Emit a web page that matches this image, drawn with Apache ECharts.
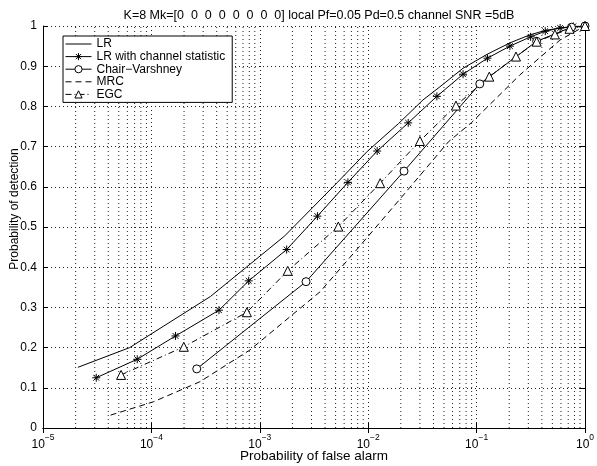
<!DOCTYPE html>
<html>
<head>
<meta charset="utf-8">
<script src="https://cdn.jsdelivr.net/npm/echarts@6/dist/echarts.min.js"></script>
<style>html,body{margin:0;padding:0;background:#fff}#c{width:597px;height:466px}</style>
</head>
<body>
<div id="c"></div>
<script>
const titleText = 'K=8 Mk=[0  0  0  0  0  0  0  0] local Pf=0.05 Pd=0.5 channel SNR =5dB';
const xName = 'Probability of false alarm';
const yName = 'Probability of detection';
const seriesNames = ['LR', 'LR with channel statistic', 'Chair\u2212Varshney', 'MRC', 'EGC'];

const lrX = [2.1e-5, 6.3e-5, 3.5e-4, 1.7e-3, 5.2e-3, 9.8e-3, 1.9e-2, 3.2e-2, 4.6e-2, 7.5e-2, 0.126, 0.203, 0.31, 0.43, 0.59, 1];
const lrY = [0.151, 0.200, 0.327, 0.478, 0.611, 0.688, 0.757, 0.816, 0.849, 0.895, 0.930, 0.958, 0.978, 0.989, 0.995, 1.0];

const lrsX = [3.1e-5, 7.4e-5, 1.67e-4, 4.2e-4, 7.9e-4, 1.77e-3, 3.4e-3, 6.5e-3, 1.21e-2, 2.34e-2, 4.3e-2, 7.5e-2, 0.126, 0.203, 0.315, 0.43, 0.59, 0.78, 1];
const lrsY = [0.125, 0.171, 0.229, 0.293, 0.366, 0.444, 0.527, 0.611, 0.689, 0.759, 0.825, 0.880, 0.920, 0.950, 0.973, 0.987, 0.995, 0.999, 1.0];

const cvX = [2.62e-4, 2.67e-3, 2.14e-2, 0.107, 0.358, 0.75, 1];
const cvY = [0.147, 0.364, 0.639, 0.856, 0.962, 0.997, 1.0];

const mrcX = [4.2e-5, 1.04e-4, 2.8e-4, 8.1e-4, 3.6e-3, 7.8e-3, 2.0e-2, 5.5e-2, 0.09, 0.25, 0.587, 1];
const mrcY = [0.032, 0.065, 0.115, 0.194, 0.339, 0.443, 0.572, 0.712, 0.760, 0.878, 0.965, 1.0];

const egcX = [5.25e-5, 1.99e-4, 7.6e-4, 1.81e-3, 5.3e-3, 1.29e-2, 3.0e-2, 6.45e-2, 0.131, 0.231, 0.358, 0.528, 0.72, 1];
const egcY = [0.132, 0.202, 0.288, 0.391, 0.501, 0.609, 0.714, 0.802, 0.874, 0.924, 0.961, 0.979, 0.993, 1.0];

// minor log grid positions (2..9 x 10^n)
const minorGridX = [];
for (let e = -5; e < 0; e++) for (let k = 2; k <= 9; k++) minorGridX.push(k * Math.pow(10, e));

const zip = (xs, ys) => xs.map((x, i) => [x, ys[i]]);
const FONT = 'Liberation Sans, Arial, sans-serif';
const starPath = 'path://M0,-5L0,5M-5,0L5,0M-3.6,-3.6L3.6,3.6M-3.6,3.6L3.6,-3.6';
const triPath = 'path://M0,-10L8.66,5L-8.66,5Z';
const gridLine = { show: true, lineStyle: { color: '#222', type: [1, 3], width: 1 } };

const minorData = [];
minorGridX.forEach(v => { minorData.push([v, 0], [v, 1], [v, null]); });

const chart = echarts.init(document.getElementById('c'), null, { renderer: 'canvas' });
const base = (name, data) => ({
  name, type: 'line', data, xAxisIndex: 0, yAxisIndex: 0,
  lineStyle: { color: '#000', width: 1 },
  itemStyle: { color: '#fff', borderColor: '#000', borderWidth: 1 },
  animation: false, z: 5
});
const axisBox = { show: true, lineStyle: { color: '#000', width: 1 } };
const tickIn = { show: true, inside: true, length: 5, lineStyle: { color: '#000' } };
chart.setOption({
  backgroundColor: '#fff',
  animation: false,
  title: {
    text: titleText, left: 314, top: 4, textAlign: 'center',
    textStyle: { fontFamily: FONT, fontSize: 12.5, fontWeight: 'normal', color: '#000' }
  },
  grid: { left: 43, right: 12, top: 26, bottom: 38, containLabel: false, outerBoundsMode: 'none' },
  legend: {
    orient: 'vertical', left: 63, top: 36, itemWidth: 26, itemHeight: 9, itemGap: 0.6,
    padding: [2, 7, 2, 2],
    backgroundColor: '#fff', borderColor: '#000', borderWidth: 1,
    lineStyle: { width: 1 },
    itemStyle: { borderWidth: 1 },
    textStyle: { fontFamily: FONT, fontSize: 12, color: '#000' },
    data: [
      { name: seriesNames[0], itemStyle: { opacity: 0 } },
      { name: seriesNames[1] },
      { name: seriesNames[2] },
      { name: seriesNames[3], itemStyle: { opacity: 0 } },
      { name: seriesNames[4] }
    ]
  },
  xAxis: [{
    type: 'log', logBase: 10, min: 1e-5, max: 1,
    name: xName, nameLocation: 'middle', nameGap: 21, nameMoveOverlap: false,
    nameTextStyle: { fontFamily: FONT, fontSize: 13.5, color: '#000' },
    axisLine: axisBox, axisTick: tickIn,
    axisLabel: {
      margin: 5,
      formatter: v => '{b|10}{s|' + Math.round(Math.log10(v)).toString().replace('-', '\u2212') + '}',
      rich: {
        b: { fontFamily: FONT, fontSize: 12, color: '#000', verticalAlign: 'bottom', lineHeight: 18 },
        s: { fontFamily: FONT, fontSize: 8.5, color: '#000', verticalAlign: 'top', lineHeight: 18 }
      }
    },
    splitLine: gridLine
  }, {
    type: 'log', logBase: 10, min: 1e-5, max: 1, position: 'top',
    axisLine: axisBox, axisTick: tickIn,
    axisLabel: { show: false }, splitLine: { show: false }
  }],
  yAxis: [{
    type: 'value', min: 0, max: 1, interval: 0.1,
    name: yName, nameLocation: 'middle', nameGap: 22, nameMoveOverlap: false,
    nameTextStyle: { fontFamily: FONT, fontSize: 12, color: '#000', padding: [0, 0, 0, 36] },
    axisLine: axisBox, axisTick: tickIn,
    axisLabel: { fontFamily: FONT, fontSize: 12, color: '#000', margin: 6,
      formatter: v => (Math.round(v * 10) / 10).toString() },
    splitLine: gridLine
  }, {
    type: 'value', min: 0, max: 1, interval: 0.1, position: 'right',
    axisLine: axisBox, axisTick: tickIn,
    axisLabel: { show: false }, splitLine: { show: false }
  }],
  series: [
    {
      name: 'minor-grid', type: 'line', data: minorData, xAxisIndex: 0, yAxisIndex: 0,
      silent: true, z: 1, symbol: 'none', showSymbol: false, connectNulls: false,
      lineStyle: { color: '#222', type: [1, 3], width: 1 }
    },
    Object.assign(base(seriesNames[0], zip(lrX, lrY)), { symbol: 'none', showSymbol: false }),
    Object.assign(base(seriesNames[1], zip(lrsX, lrsY)), { symbol: starPath, symbolSize: 8,
      itemStyle: { color: '#000', borderColor: '#000', borderWidth: 1 } }),
    Object.assign(base(seriesNames[2], zip(cvX, cvY)), { symbol: 'circle', symbolSize: 8 }),
    Object.assign(base(seriesNames[3], zip(mrcX, mrcY)), { symbol: 'none', showSymbol: false,
      lineStyle: { color: '#000', width: 1, type: [6, 4] } }),
    Object.assign(base(seriesNames[4], zip(egcX, egcY)), { symbol: triPath, symbolSize: 9,
      lineStyle: { color: '#000', width: 1, type: [6, 3, 1, 3] } })
  ]
});
</script>
</body>
</html>
